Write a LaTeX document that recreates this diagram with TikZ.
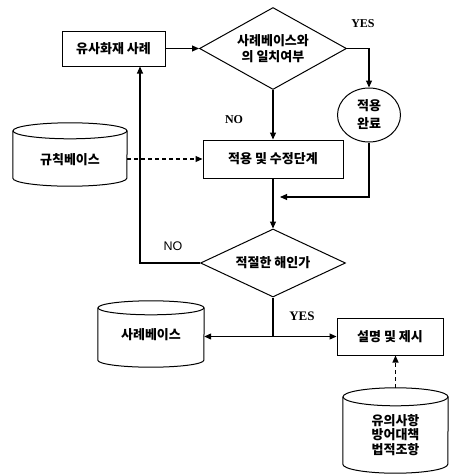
\documentclass[tikz,border=0pt]{standalone}
\usepackage{fontspec}
\setmainfont{Liberation Serif}
\newfontfamily\kr{Noto Sans CJK KR}
\newfontfamily\lsans{Liberation Sans}
\usetikzlibrary{shapes.geometric,arrows.meta}
\newcommand\cylout[3]{%
  \draw[shp] (#1.north west) -- (#1.south west)
     arc[start angle=180,end angle=360,x radius=#2,y radius=#3] -- (#1.north east);
  \draw[shp] (#1.north) ellipse[x radius=#2,y radius=#3];}
\newcommand\lowtxt[2]{\raisebox{-#1}[\height][\depth]{#2}}
\begin{document}
\begin{tikzpicture}[x=1pt,y=1pt,
  shp/.style={line width=1pt},
  txt/.style={font=\kr\bfseries\fontsize{13}{16}\selectfont,align=center,inner sep=0pt},
  boxn/.style={txt,shp,draw,rectangle},
  dia/.style={txt,shp,draw,diamond},
  cylbody/.style={txt,rectangle},
  arr/.style={line width=1.1pt,-{Triangle[length=7pt,width=6pt]}},
  darr/.style={line width=1.1pt,dash pattern=on 4pt off 3pt,-{Triangle[length=7pt,width=6pt]}},
  ln/.style={line width=1.1pt},
  labs/.style={font=\bfseries\fontsize{12}{14}\selectfont,inner sep=0pt},
  labss/.style={font=\lsans\fontsize{12.5}{14}\selectfont,inner sep=0pt}]
\useasboundingbox (0,0) rectangle (452,-474);

\node[boxn,minimum width=103pt,minimum height=35pt] (box1) at (113.5,-48.5) {유사화재 사례};
\node[dia,minimum width=147pt,minimum height=82pt,aspect=1.79] (d1) at (273,-48.5) {사례베이스와\\의 일치여부};
\node[txt,shp,draw,ellipse,minimum width=63pt,minimum height=54pt,font=\kr\bfseries\fontsize{13}{18}\selectfont] (circ) at (369,-115) {적용\\완료};
\node[boxn,minimum width=140pt,minimum height=38pt] (box2) at (273,-159) {적용 및 수정단계};
\node[cylbody,minimum width=114pt,minimum height=47pt] (cyl1) at (70,-154.5) {\lowtxt{5pt}{규칙베이스}};
\node[dia,minimum width=145pt,minimum height=68pt,aspect=2.13] (d2) at (273,-263) {적절한 해인가};
\node[cylbody,minimum width=106pt,minimum height=52pt] (cyl2) at (151,-334) {\lowtxt{1pt}{사례베이스}};
\node[boxn,minimum width=106pt,minimum height=37pt] (ex) at (390,-336.5) {설명 및 제시};
\node[cylbody,minimum width=105pt,minimum height=67pt,font=\kr\bfseries\fontsize{13}{14.5}\selectfont] (cyl3) at (395.5,-430.5) {\lowtxt{6pt}{\begin{tabular}{@{}c@{}}유의사항\\[-1pt]방어대책\\[-1pt]법적조항\end{tabular}}};

\cylout{cyl1}{57pt}{8pt}
\cylout{cyl2}{53pt}{7pt}
\cylout{cyl3}{52.5pt}{9pt}

\node[labs] (yes1) at (363,-24) {YES};
\node[labs] (no1) at (234,-120) {NO};
\node[labss] (no2) at (173,-246) {NO};
\node[labs,font=\bfseries\fontsize{13}{15}\selectfont] (yes2) at (302,-316) {YES};

\coordinate (jn) at (280,-197);
\coordinate (split) at (d2.south |- ex.west);

\draw[arr] (box1.east) -- (d1.west);
\draw[arr] (d1.east) -| (circ.north);
\draw[arr] (d1.south) -- (box2.north);
\draw[arr] (circ.south) |- (jn);
\draw[darr] (cyl1.east |- box2.west) -- (box2.west);
\draw[arr] (box2.south) -- (d2.north);
\draw[arr] (d2.west) -| ([xshift=26.5pt]box1.south);
\draw[ln] (d2.south) -- (split);
\draw[arr] (split) -- (split -| cyl2.east);
\draw[arr] (split) -- (ex.west);
\draw[darr] ([yshift=9pt]cyl3.north) -- (ex.south -| cyl3.north);
\end{tikzpicture}
\end{document}
